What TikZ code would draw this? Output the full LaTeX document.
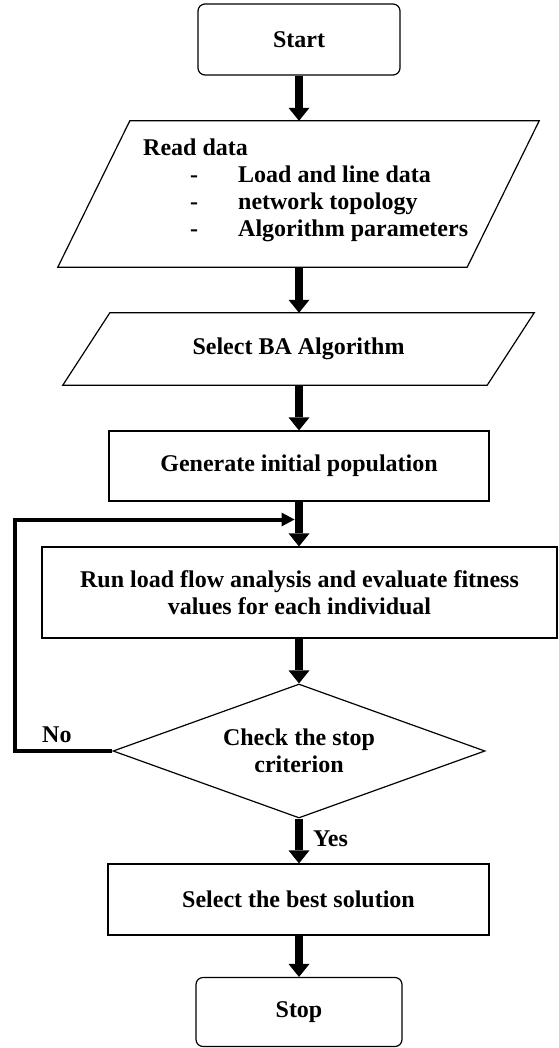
\documentclass[tikz,border=0pt]{standalone}
\usepackage{fontspec}
\setmainfont{Liberation Serif}
\usetikzlibrary{arrows.meta,shapes.geometric,calc}
\begin{document}
\begin{tikzpicture}[x=1pt,y=-1pt,
  every node/.style={font=\fontsize{24}{27}\selectfont\bfseries, inner sep=0pt},
  box/.style={draw, line width=1.2pt, rectangle},
  term/.style={box, rounded corners=7pt},
  io/.style={rectangle, draw=none},
  para/.style={draw, line width=1.2pt, line join=miter},
  decision/.style={diamond, draw, line width=1.2pt, aspect=2.78, align=center},
  flow/.style={line width=8.5pt, -{Triangle[width=21pt,length=13pt,line width=0pt]}},
  loopline/.style={line width=4pt, -{Triangle[width=14pt,length=13pt,line width=0pt]}},
  lbl/.style={anchor=base west}]
\useasboundingbox (0,0) rectangle (558,1048);

% nodes
\node[term, minimum width=202pt, minimum height=71pt] (start) at (299,39.5) {Start};
\node[io, minimum width=481pt, minimum height=146pt] (read) at (298.5,194) {};
\node[lbl] (readtxt) at (143,156) {\begin{tabular}[t]{@{}l@{}}Read data\\
  \hspace*{47pt}-\hspace*{40pt}Load and line data\\
  \hspace*{47pt}-\hspace*{40pt}network topology\\
  \hspace*{47pt}-\hspace*{40pt}Algorithm parameters\end{tabular}};
\node[io, minimum width=471pt, minimum height=72pt] (sel) at (298.5,349) {Select BA Algorithm};
\node[box, minimum width=380pt, minimum height=70pt] (gen) at (299,466) {Generate initial population};
\node[box, minimum width=515pt, minimum height=91pt, align=center] (run) at (299.5,592.5)
  {Run load flow analysis and evaluate fitness\\values for each individual};
\node[decision, minimum width=372pt, minimum height=134pt] (dec) at (299,751) {Check the stop\\criterion};
\node[box, minimum width=381pt, minimum height=71pt] (best) at (298.5,899.5) {Select the best solution};
\node[term, minimum width=206pt, minimum height=69pt] (stop) at (299,1012) {Stop};

% parallelogram outlines
\draw[para] ($(read.north west)+(72,0)$) -- (read.north east) -- ($(read.south east)+(-72,0)$) -- (read.south west) -- cycle;
\draw[para] ($(sel.north west)+(47,0)$) -- (sel.north east) -- ($(sel.south east)+(-47,0)$) -- (sel.south west) -- cycle;

% labels
\node[lbl] (nolbl) at (42,742) {No};
\node[lbl] (yeslbl) at (313,846) {Yes};

% connectors
\coordinate (join) at (294.5,519.5);
\draw[flow] (start.south) -- (start.south |- read.north);
\draw[flow] (read.south -| start.south) -- (start.south |- sel.north);
\draw[flow] (sel.south -| start.south) -- (gen.north);
\draw[flow] (gen.south) -- (gen.south |- run.north);
\draw[flow] (run.south -| gen.south) -- (dec.north);
\draw[flow] (dec.south) -- (dec.south |- best.north);
\draw[flow] (best.south -| dec.south) -- (stop.north);
\draw[loopline] (dec.west) -- ++(-97.5,0) |- (join);
\end{tikzpicture}
\end{document}
